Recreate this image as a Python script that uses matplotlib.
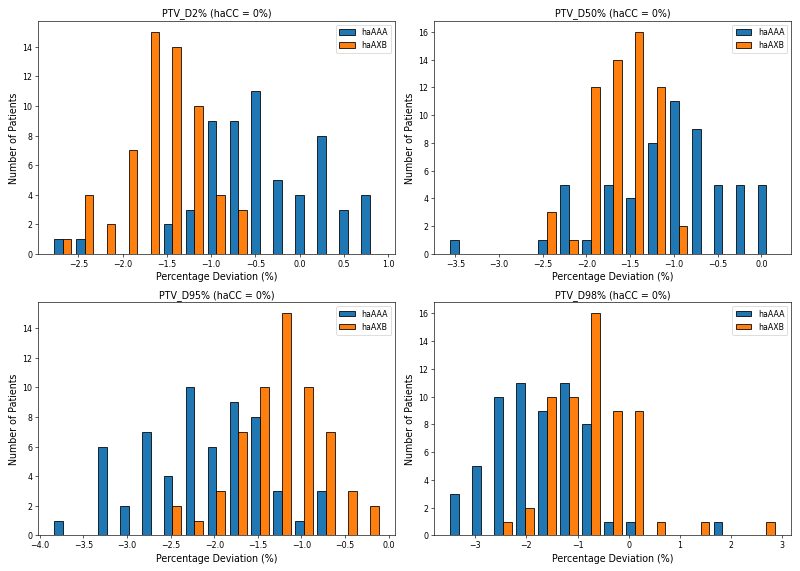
import numpy as np
import matplotlib.pyplot as plt

# ── Data: counts per bin (15 bins per panel) ─────────────────────────────────
titles = ["PTV_D2% (haCC = 0%)", "PTV_D50% (haCC = 0%)",
          "PTV_D95% (haCC = 0%)", "PTV_D98% (haCC = 0%)"]
labels = ["haAAA", "haAXB"]

# bin range (lo, hi)
bin_lo = [-2.80, -3.582, -3.864, -3.533]
bin_hi = [0.92, 0.183, -0.088, 2.908]
n_bins = 15

aaa_d2  = [1, 1, 0, 0, 0, 2, 3, 9, 9, 11, 5, 4, 8, 3, 4]
axb_d2  = [1, 4, 2, 7, 15, 14, 10, 4, 3, 0, 0, 0, 0, 0, 0]
aaa_d50 = [1, 0, 0, 0, 1, 5, 1, 5, 4, 8, 11, 9, 5, 5, 5]
axb_d50 = [0, 0, 0, 0, 3, 1, 12, 14, 16, 12, 2, 0, 0, 0, 0]
aaa_d95 = [1, 0, 6, 2, 7, 4, 10, 6, 9, 8, 3, 1, 3, 0, 0]
axb_d95 = [0, 0, 0, 0, 0, 2, 1, 3, 7, 10, 15, 10, 7, 3, 2]
aaa_d98 = [3, 5, 10, 11, 9, 11, 8, 1, 1, 0, 0, 0, 1, 0, 0]
axb_d98 = [0, 0, 1, 2, 10, 10, 16, 9, 9, 1, 0, 1, 0, 0, 1]

aaa = [aaa_d2, aaa_d50, aaa_d95, aaa_d98]
axb = [axb_d2, axb_d50, axb_d95, axb_d98]

fig, axes = plt.subplots(2, 2, figsize=(14, 10))

for ax, title, lo, hi, a, b in zip(axes.flat, titles, bin_lo, bin_hi, aaa, axb):
    edges = np.linspace(lo, hi, n_bins + 1)
    centers = 0.5 * (edges[:-1] + edges[1:])
    ax.hist([centers, centers], bins=edges, weights=[a, b],
            label=labels, edgecolor="black")
    ax.set_title(title)
    ax.set_xlabel("Percentage Deviation (%)", fontsize=12)
    ax.set_ylabel("Number of Patients", fontsize=12)
    ax.legend(loc="upper right")

plt.tight_layout()
plt.savefig("out.png", dpi=800 / 14)
